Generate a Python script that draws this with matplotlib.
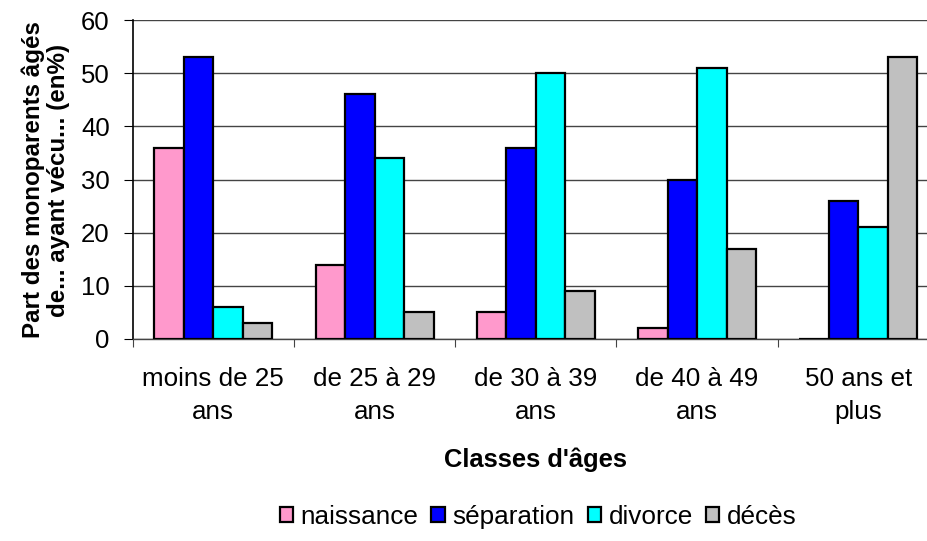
import matplotlib
matplotlib.use("Agg")
import matplotlib.pyplot as plt
import numpy as np

plt.rcParams["font.family"] = ["Liberation Sans", "DejaVu Sans"]

categories = ["moins de 25\nans", "de 25 à 29\nans", "de 30 à 39\nans",
              "de 40 à 49\nans", "50 ans et\nplus"]
series_names = ["naissance", "séparation", "divorce", "décès"]
naissance = [36, 14, 5, 2, 0]
separation = [53, 46, 36, 30, 26]
divorce = [6, 34, 50, 51, 21]
deces = [3, 5, 9, 17, 53]
colors = ["#FF99CC", "#0000FF", "#00FFFF", "#C0C0C0"]

W, H = 928, 541
fig = plt.figure(figsize=(W / 100, H / 100), dpi=100)
# axes runs slightly past the right edge, as in the reference
ax = fig.add_axes([132.7 / W, (H - 339) / H, 806.3 / W, 319 / H])

x = np.arange(len(categories))
bw = 0.183
for i, (vals, name, col) in enumerate(zip([naissance, separation, divorce, deces],
                                          series_names, colors)):
    ax.bar(x + (i - 1.5) * bw, vals, width=bw, color=col, edgecolor="black",
           linewidth=1.6, label=name, zorder=3)

ax.set_xlim(-0.5, len(categories) - 0.5)
ax.set_ylim(0, 60)
ax.set_yticks(range(0, 61, 10))
ax.yaxis.grid(True, color="#444444", linewidth=1.0, zorder=0)
ax.set_axisbelow(True)

ax.set_xticks(np.arange(len(categories) + 1) - 0.5)
ax.set_xticklabels([])
ax.set_xticks(x, minor=True)
ax.set_xticklabels(categories, minor=True, fontsize=18.7, linespacing=1.5)
ax.tick_params(axis="x", which="major", length=5.8, direction="out", color="#444444")
ax.tick_params(axis="x", which="minor", length=0, pad=20)
ax.tick_params(axis="y", length=6.5, direction="out", labelsize=18.5, pad=10)

for s in ["top", "right"]:
    ax.spines[s].set_visible(False)
ax.spines["left"].set_linewidth(1.2)
ax.spines["bottom"].set_linewidth(1.0)
ax.spines["bottom"].set_color("#444444")

fig.text(46 / W, 1 - 180 / H, "Part des monoparents âgés\nde... ayant vécu... (en%)",
         rotation=90, ha="center", va="center", fontsize=17.4, fontweight="bold",
         linespacing=1.1)
fig.text(536 / W, 1 - 460 / H, "Classes d'âges", ha="center", va="center",
         fontsize=18.4, fontweight="bold")

fig.legend(loc="center", bbox_to_anchor=(538 / W, 1 - 517 / H), ncol=4,
           frameon=False, fontsize=18.8, handlelength=0.5, handleheight=0.5,
           handletextpad=0.3, columnspacing=0.5, borderaxespad=0)

fig.savefig("out.png", dpi=100)
